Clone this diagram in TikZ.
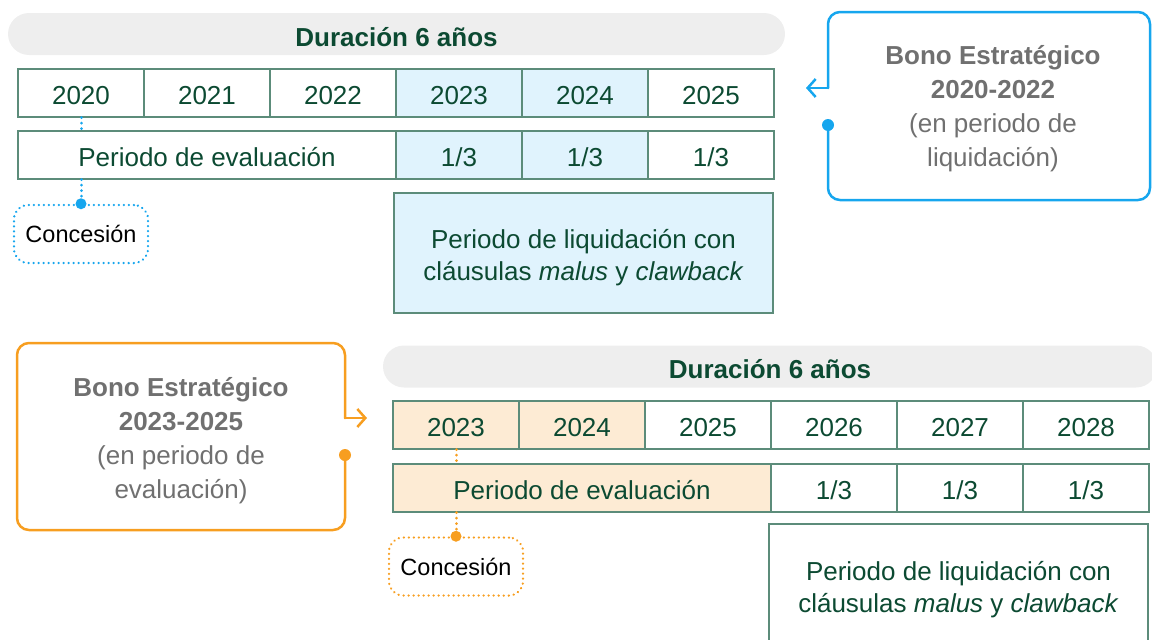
\documentclass[tikz,border=0pt]{standalone}
\usepackage{fontspec}
\setmainfont{Liberation Sans}
\usetikzlibrary{arrows.meta}
\definecolor{verde}{RGB}{12,74,50}
\definecolor{borde}{RGB}{92,140,122}
\definecolor{azul}{RGB}{22,166,238}
\definecolor{naranja}{RGB}{247,158,32}
\definecolor{gris}{RGB}{112,112,112}
\definecolor{barra}{RGB}{238,238,238}
\definecolor{celeste}{RGB}{224,243,253}
\definecolor{crema}{RGB}{253,235,212}

\begin{document}
\begin{tikzpicture}[x=1pt,y=-1pt,
  every node/.style={font=\fontsize{26}{31}\selectfont},
  cell/.style={draw=borde,line width=1.3pt,text=verde,minimum width=126,minimum height=48,inner sep=0pt,text height=23.6pt,text depth=0pt},
  bar/.style={fill=barra,rounded corners=21pt,text=verde,font=\fontsize{26}{31}\selectfont\bfseries,minimum height=42,inner sep=0pt,text height=24.6pt,text depth=0pt},
  liq/.style={draw=borde,line width=1.3pt,text=verde,minimum width=379,inner sep=0pt,align=center,font=\fontsize{26}{32}\selectfont,text height=54pt,text depth=0pt},
  conc/.style={line width=2.5pt,rounded corners=14pt,dash pattern=on 0.01pt off 5pt,line cap=round,minimum width=134,minimum height=58,inner sep=0pt,font=\fontsize{23.5}{28}\selectfont},
  bono/.style={text=gris,align=center,font=\fontsize{26}{34}\selectfont},
  link/.style={line width=3pt,dash pattern=on 0.01pt off 5.5pt,line cap=round},
  bracket/.style={line width=2.5pt,rounded corners=12pt,line cap=round},
  flecha/.style={line width=2.5pt,line cap=round,-{Straight Barb[length=8pt,width=18pt]}}]
\useasboundingbox (0,0) rectangle (1152,640);

\node[bar,minimum width=777] (dur1) at (396.5,34) {Duración 6 años};
\node[cell] (a2020) at (81,93) {2020};
\node[cell] (a2021) at (207,93) {2021};
\node[cell] (a2022) at (333,93) {2022};
\node[cell,fill=celeste] (a2023) at (459,93) {2023};
\node[cell,fill=celeste] (a2024) at (585,93) {2024};
\node[cell] (a2025) at (711,93) {2025};
\node[cell,minimum width=378] (eval1) at (207,155) {Periodo de evaluación};
\node[cell,fill=celeste] (t1a) at (459,155) {1/3};
\node[cell,fill=celeste] (t1b) at (585,155) {1/3};
\node[cell] (t1c) at (711,155) {1/3};
\node[liq,fill=celeste,minimum height=120] (liq1) at (583.5,253) {Periodo de liquidación con\\cláusulas \textit{malus} y \textit{clawback}};
\node[conc,draw=azul] (con1) at (81,234) {Concesión};
\draw[link,azul] (a2020.south) -- (a2020.south |- eval1.north);
\draw[link,azul] (a2020.south |- eval1.south) -- (con1.north);
\fill[azul] (con1.north) circle (5.5);

\node[bono] (bono1) at (993,108.5) {\textbf{Bono Estratégico}\\\textbf{2020-2022}\\(en periodo de\\liquidación)};
\coordinate (d1) at (828,125);
\coordinate (k1) at (828,88);
\coordinate (p1) at (806,88);
\draw[bracket,azul] (d1) -- (828,200) -- (1150,200) -- (1150,12) -- (828,12) -- (k1);
\draw[flecha,azul] (k1) -- (p1);
\fill[azul] (d1) circle (6);

\node[bar,minimum width=774] (dur2) at (770,366.5) {Duración 6 años};
\node[cell,fill=crema] (b2023) at (456,425) {2023};
\node[cell,fill=crema] (b2024) at (582,425) {2024};
\node[cell] (b2025) at (708,425) {2025};
\node[cell] (b2026) at (834,425) {2026};
\node[cell] (b2027) at (960,425) {2027};
\node[cell] (b2028) at (1086,425) {2028};
\node[cell,fill=crema,minimum width=378] (eval2) at (582,488) {Periodo de evaluación};
\node[cell] (t2a) at (834,488) {1/3};
\node[cell] (t2b) at (960,488) {1/3};
\node[cell] (t2c) at (1086,488) {1/3};
\node[liq,fill=white,minimum height=128,text height=48pt] (liq2) at (958.5,588) {Periodo de liquidación con\\cláusulas \textit{malus} y \textit{clawback}};
\node[conc,draw=naranja] (con2) at (456,566.5) {Concesión};
\draw[link,naranja] (b2023.south) -- (b2023.south |- eval2.north);
\draw[link,naranja] (b2023.south |- eval2.south) -- (con2.north);
\fill[naranja] (con2.north) circle (5.5);

\node[bono] (bono2) at (181,440.5) {\textbf{Bono Estratégico}\\\textbf{2023-2025}\\(en periodo de\\evaluación)};
\coordinate (d2) at (345,455);
\coordinate (k2) at (345,418);
\coordinate (p2) at (367,418);
\draw[bracket,naranja] (d2) -- (345,530) -- (17,530) -- (17,343) -- (345,343) -- (k2);
\draw[flecha,naranja] (k2) -- (p2);
\fill[naranja] (d2) circle (6);
\end{tikzpicture}
\end{document}
